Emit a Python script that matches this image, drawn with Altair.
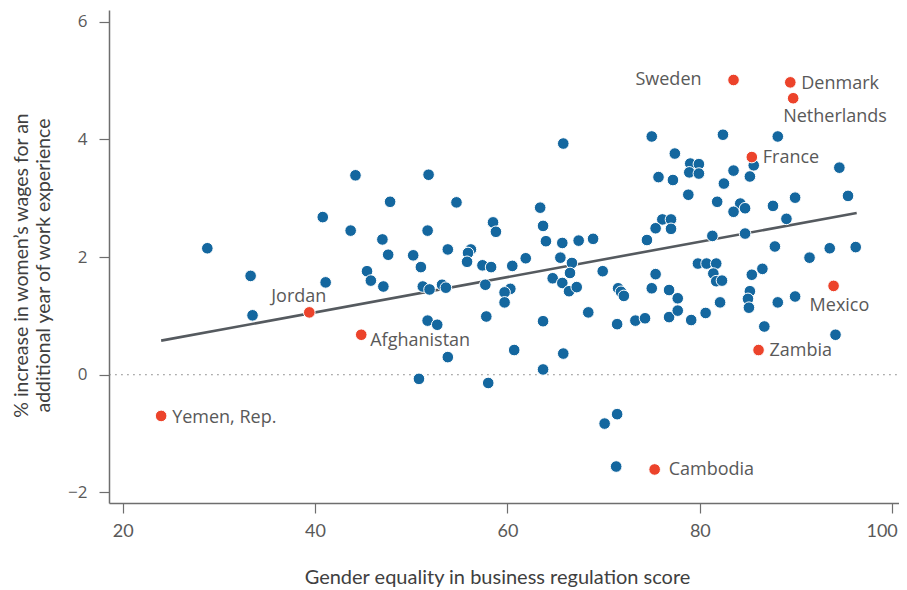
import altair as alt
import pandas as pd

# ---------------- data ----------------
blue_x = [28.8, 33.3, 33.5, 40.8, 41.1, 43.7, 44.2, 45.4, 45.8, 47.1,
          47.0, 47.6, 47.8, 50.2, 51.0, 51.2, 51.9, 51.7, 51.8, 51.7,
          52.7, 53.8, 53.2, 53.6, 53.8, 50.8, 54.7, 56.2, 55.9, 55.8,
          57.4, 58.3, 58.5, 58.8, 60.5, 61.9, 63.4, 63.7, 64.0, 65.7,
          67.4, 68.9, 65.5, 66.7, 66.5, 69.9, 64.7, 65.7, 66.4, 67.2,
          57.7, 60.3, 59.7, 59.7, 57.8, 63.7, 68.4, 60.7, 65.8, 63.7,
          58.0, 65.8, 71.5, 71.8, 72.1, 71.4, 73.3, 74.3, 74.5, 75.0,
          77.4, 79.0, 79.9, 78.9, 79.9, 75.7, 77.2, 82.4, 88.1, 83.5,
          85.6, 85.2, 82.5, 94.5, 78.8, 81.8, 84.2, 84.7, 83.5, 87.6,
          89.9, 95.4, 89.0, 76.1, 77.0, 75.4, 77.0, 81.3, 84.7, 87.8,
          91.4, 93.5, 96.2, 79.8, 80.7, 81.7, 81.4, 81.7, 82.3, 85.4,
          86.5, 75.4, 75.0, 76.8, 77.7, 85.2, 85.0, 85.1, 82.1, 88.1,
          89.9, 76.8, 77.7, 79.1, 80.6, 86.7, 94.1, 71.4, 70.1, 71.3]
blue_y = [2.15, 1.68, 1.01, 2.68, 1.57, 2.45, 3.39, 1.76, 1.60, 1.50,
          2.30, 2.04, 2.94, 2.03, 1.83, 1.50, 1.45, 2.45, 3.40, 0.92,
          0.85, 2.13, 1.53, 1.48, 0.30, -0.07, 2.93, 2.13, 2.07, 1.92,
          1.86, 1.83, 2.59, 2.43, 1.85, 1.98, 2.84, 2.53, 2.27, 2.24,
          2.28, 2.31, 1.99, 1.90, 1.73, 1.76, 1.64, 1.56, 1.42, 1.49,
          1.53, 1.46, 1.40, 1.23, 0.99, 0.91, 1.06, 0.42, 0.36, 0.09,
          -0.14, 3.93, 1.47, 1.41, 1.34, 0.86, 0.92, 0.96, 2.29, 4.05,
          3.76, 3.59, 3.58, 3.44, 3.42, 3.36, 3.31, 4.08, 4.05, 3.47,
          3.56, 3.37, 3.25, 3.52, 3.06, 2.94, 2.91, 2.83, 2.77, 2.87,
          3.01, 3.04, 2.65, 2.64, 2.64, 2.49, 2.48, 2.36, 2.40, 2.18,
          1.99, 2.15, 2.17, 1.89, 1.89, 1.89, 1.72, 1.59, 1.60, 1.70,
          1.80, 1.71, 1.47, 1.44, 1.30, 1.42, 1.29, 1.14, 1.23, 1.23,
          1.33, 0.98, 1.09, 0.93, 1.05, 0.82, 0.68, -0.67, -0.83, -1.56]

red_names = ["Yemen, Rep.", "Jordan", "Afghanistan", "Cambodia", "Sweden",
             "France", "Zambia", "Denmark", "Netherlands", "Mexico"]
red_x = [24.0, 39.4, 44.8, 75.3, 83.5, 85.4, 86.1, 89.4, 89.7, 93.9]
red_y = [-0.70, 1.06, 0.68, -1.61, 5.01, 3.70, 0.42, 4.97, 4.70, 1.51]

trend_x = [24.0, 96.3]
trend_y = [0.58, 2.75]

zero_x = [18.6, 100.5]
zero_y = [0, 0]

x_ticks = [20, 40, 60, 80, 100]
y_ticks = [-2, 0, 2, 4, 6]

x_title = "Gender equality in business regulation score"
y_title = ["% increase in women\u2019s wages for an",
           "additional year of work experience"]

# ---------------- styles ----------------
BLUE = "#14679f"
RED = "#ec432b"
AXIS_GREY = "#6e6e6e"
LABEL_GREY = "#595959"
TEXT_FONT = "Open Sans"
TITLE_FONT = "Lato"

X_DOMAIN = [18.58, 100.7]
Y_DOMAIN = [-2.18, 6.2]

# label placement: name -> (dx, dy, align)
LABEL_POS = {
    "Yemen, Rep.": (11, 2, "left"),
    "Jordan": (-38, -15, "left"),
    "Afghanistan": (9, 6, "left"),
    "Cambodia": (14, 1, "left"),
    "Sweden": (-32, 0, "right"),
    "France": (11, 1, "left"),
    "Zambia": (11, 1, "left"),
    "Denmark": (11, 2, "left"),
    "Netherlands": (-10, 19, "left"),
    "Mexico": (-24, 20, "left"),
}

# ---------------- tables ----------------
blue_df = pd.DataFrame({"x": blue_x, "y": blue_y})
red_df = pd.DataFrame({"x": red_x, "y": red_y, "name": red_names})
trend_df = pd.DataFrame({"x": trend_x, "y": trend_y})
zero_df = pd.DataFrame({"x": [zero_x[0]], "x2": [zero_x[1]], "y": [zero_y[0]]})

x_scale = alt.Scale(domain=X_DOMAIN, nice=False, zero=False)
y_scale = alt.Scale(domain=Y_DOMAIN, nice=False, zero=False)

x_axis = alt.Axis(
    values=x_ticks, title=x_title, grid=False, format="d",
    domainColor=AXIS_GREY, domainWidth=1.5,
    tickColor=AXIS_GREY, tickSize=10, tickWidth=1.2,
    labelFont=TITLE_FONT, labelFontSize=18, labelColor=LABEL_GREY,
    labelPadding=9,
    labelAlign=alt.ExprRef(expr="datum.value >= 100 ? 'right' : 'center'"),
    labelOffset=alt.ExprRef(expr="datum.value >= 100 ? 5 : 0"),
    titleFont=TITLE_FONT, titleFontSize=20, titleFontWeight="normal",
    titleColor="#404040", titleX=388, titleY=74, titleBaseline="middle",
)
y_axis = alt.Axis(
    values=y_ticks, title=y_title, grid=False, format="d",
    domainColor=AXIS_GREY, domainWidth=1.5,
    tickColor=AXIS_GREY, tickSize=10, tickWidth=1.2,
    labelFont=TEXT_FONT, labelFontSize=17, labelColor=LABEL_GREY,
    labelPadding=12,
    titleFont=TITLE_FONT, titleFontSize=19.5, titleFontWeight="normal",
    titleColor="#404040", titleX=-88, titleY=255, titleAngle=270,
    titleBaseline="middle", titleAlign="center", titleLineHeight=22,
)

zero_line = alt.Chart(zero_df).mark_rule(
    color="#7a7a7a", strokeWidth=1, strokeDash=[1.5, 4.5]
).encode(
    x=alt.X("x:Q", scale=x_scale, axis=x_axis),
    x2="x2:Q",
    y=alt.Y("y:Q", scale=y_scale, axis=y_axis),
)

trend = alt.Chart(trend_df).mark_line(
    color="#555a5f", strokeWidth=2.6
).encode(x="x:Q", y="y:Q")

blue_pts = alt.Chart(blue_df).mark_circle(
    size=135, color=BLUE, opacity=1, stroke="white", strokeWidth=1
).encode(x="x:Q", y="y:Q")

red_pts = alt.Chart(red_df).mark_circle(
    size=135, color=RED, opacity=1, stroke="white", strokeWidth=1
).encode(x="x:Q", y="y:Q")

label_layers = []
for name, (dx, dy, align) in LABEL_POS.items():
    label_layers.append(
        alt.Chart(red_df).transform_filter(
            alt.datum.name == name
        ).mark_text(
            align=align, baseline="middle", dx=dx, dy=dy,
            font=TEXT_FONT, fontSize=18, color=LABEL_GREY
        ).encode(x="x:Q", y="y:Q", text="name:N")
    )

chart = alt.layer(
    zero_line, trend, blue_pts, red_pts, *label_layers
).properties(
    width=790, height=493,
    padding={"left": 101, "top": 2, "right": 0, "bottom": 84},
    autosize=alt.AutoSizeParams(type="none"),
    background="white",
).configure_view(stroke=None)

chart.save("out.html", embed_options={"renderer": "svg", "actions": False})
